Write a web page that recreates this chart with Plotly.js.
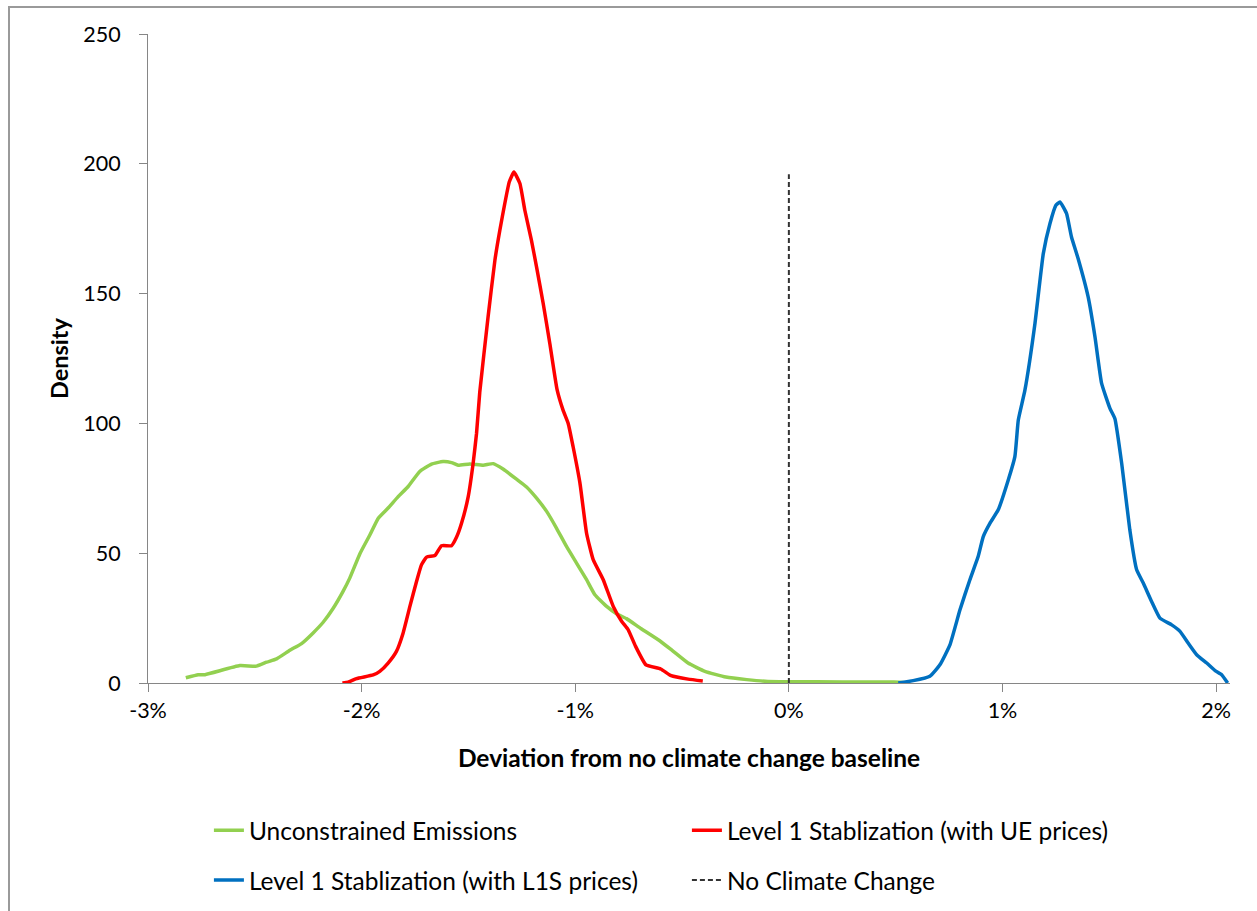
<!DOCTYPE html>
<html>
<head>
<meta charset="utf-8">
<script src="https://cdn.plot.ly/plotly-3.0.1.min.js"></script>
<style>
  html, body { margin: 0; padding: 0; background: #ffffff; }
  #chart { position: absolute; left: 0; top: 0; width: 1257px; height: 911px; }
  #frame { position: absolute; left: 8px; top: 6px; width: 1300px; height: 1000px;
           border-top: 2px solid #9a9a9a; border-left: 2px solid #9a9a9a; pointer-events: none; }
</style>
</head>
<body>
<div id="chart"></div>
<div id="frame"></div>
<script>
// Deviation from no-climate-change baseline (in %), density values
const ueX = [-2.823,-2.765,-2.733,-2.570,-2.492,-2.445,-2.398,-2.336,-2.281,-2.227,-2.180,-2.133,-2.087,-2.055,-2.008,-1.961,-1.922,-1.876,-1.829,-1.782,-1.728,-1.673,-1.619,-1.579,-1.548,-1.494,-1.431,-1.384,-1.338,-1.275,-1.228,-1.181,-1.134,-1.088,-1.041,-0.994,-0.947,-0.908,-0.853,-0.807,-0.760,-0.693,-0.600,-0.541,-0.472,-0.393,-0.295,-0.197,-0.098,0.000,0.250,0.492,0.561];
const ueY = [2.0,3.2,3.2,6.7,6.5,8.0,9.3,12.6,15.2,19.3,23.4,28.8,35.3,40.5,49.8,57.1,63.5,67.4,71.8,75.7,81.5,84.3,85.3,84.9,83.9,84.4,83.9,84.5,82.4,78.5,75.5,71.2,66.1,59.7,52.6,46.2,39.8,34.0,29.5,26.7,24.8,21.0,16.0,12.2,7.7,4.5,2.3,1.3,0.6,0.5,0.4,0.4,0.0];

const l1ueX = [-2.090,-2.063,-2.024,-1.946,-1.915,-1.876,-1.837,-1.806,-1.774,-1.743,-1.720,-1.696,-1.657,-1.626,-1.579,-1.556,-1.532,-1.501,-1.478,-1.462,-1.447,-1.408,-1.376,-1.353,-1.330,-1.309,-1.287,-1.259,-1.236,-1.205,-1.181,-1.150,-1.119,-1.085,-1.057,-1.033,-1.010,-0.978,-0.947,-0.916,-0.869,-0.822,-0.783,-0.752,-0.718,-0.669,-0.600,-0.551,-0.472,-0.403];
const l1ueY = [0.0,0.3,1.7,3.1,4.5,7.7,12.2,19.2,29.5,39.1,45.5,48.5,49.1,52.9,52.9,56.1,61.6,71.8,84.6,96.2,112.0,141.1,162.9,174.4,184.6,193.0,196.8,192.4,182.1,170.5,160.2,146.2,130.8,113.0,105.1,100.0,91.0,77.0,57.7,47.5,39.8,29.5,23.8,20.5,14.2,7.0,5.4,2.8,1.5,0.8];

const l1sX = [0.512,0.582,0.660,0.707,0.754,0.801,0.847,0.886,0.910,0.941,0.980,1.027,1.058,1.074,1.105,1.152,1.191,1.222,1.250,1.269,1.300,1.323,1.354,1.401,1.433,1.464,1.503,1.526,1.558,1.596,1.628,1.659,1.698,1.737,1.792,1.831,1.869,1.909,1.956,1.995,2.026,2.054];
const l1sY = [0.0,0.9,2.6,7.0,14.7,28.2,39.7,48.7,56.4,61.5,66.7,78.2,87.2,101.3,112.8,138.5,165.4,176.9,184.0,185.3,180.8,171.8,163.5,148.7,133.3,115.4,105.8,101.9,84.6,59.0,43.6,38.5,31.4,25.0,22.4,19.9,15.4,10.9,7.7,4.8,3.2,0.0];

const nccX = [0, 0];
const nccY = [0, 196];

const seriesNames = ["Unconstrained Emissions", "Level 1 Stablization (with UE prices)", "Level 1 Stablization (with L1S prices)", "No Climate Change"];
const xTickVals = [-3, -2, -1, 0, 1, 2];
const xTickLabels = ["-3%", "-2%", "-1%", "0%", "1%", "2%"];
const yTickVals = [0, 50, 100, 150, 200, 250];

const FONT = "Lato, 'Open Sans', sans-serif";

const traces = [
  { x: ueX, y: ueY, name: seriesNames[0], type: "scatter", mode: "lines",
    line: { color: "#92D050", width: 3.5, shape: "spline", smoothing: 0.4 }, legend: "legend" },
  { x: l1ueX, y: l1ueY, name: seriesNames[1], type: "scatter", mode: "lines",
    line: { color: "#FF0000", width: 3.5, shape: "spline", smoothing: 0.4 }, legend: "legend" },
  { x: l1sX, y: l1sY, name: seriesNames[2], type: "scatter", mode: "lines",
    line: { color: "#0070C0", width: 3.5, shape: "spline", smoothing: 0.4 }, legend: "legend2" },
  { x: nccX, y: nccY, name: seriesNames[3], type: "scatter", mode: "lines",
    line: { color: "#333333", width: 2, dash: "5px,3px" }, legend: "legend2" }
];

const legendCommon = {
  orientation: "h", xanchor: "left", yanchor: "middle",
  bgcolor: "rgba(0,0,0,0)", borderwidth: 0,
  font: { family: FONT, size: 24.5, color: "#000000" },
  entrywidth: 433, entrywidthmode: "pixels", traceorder: "normal"
};

const layout = {
  width: 1257, height: 911,
  margin: { l: 148, r: 27, t: 33.5, b: 227.5, pad: 0, autoexpand: false },
  paper_bgcolor: "#ffffff", plot_bgcolor: "#ffffff",
  font: { family: FONT, color: "#000000" },
  showlegend: true,
  xaxis: {
    range: [-3, 2.065], autorange: false,
    tickmode: "array", tickvals: xTickVals, ticktext: xTickLabels,
    ticks: "outside", ticklen: 8, tickcolor: "#868686", tickwidth: 1,
    showline: true, linecolor: "#868686", linewidth: 1,
    showgrid: false, zeroline: false,
    tickfont: { family: FONT, size: 21.5, color: "#000000" },
    title: { text: "<b>Deviation from no climate change baseline</b>",
             font: { family: FONT, size: 24.5, color: "#000000" }, standoff: 28 },
    automargin: false
  },
  yaxis: {
    range: [0, 250], autorange: false,
    tickmode: "array", tickvals: yTickVals,
    ticks: "outside", ticklen: 8, tickcolor: "#868686", tickwidth: 1,
    showline: true, linecolor: "#868686", linewidth: 1,
    showgrid: false, zeroline: false,
    ticklabelstandoff: 14,
    tickfont: { family: FONT, size: 21.5, color: "#000000" },
    title: { text: "<b>Density</b>",
             font: { family: FONT, size: 23.5, color: "#000000" }, standoff: 8 },
    automargin: false
  },
  legend: Object.assign({}, legendCommon, { x: 0.0563, y: -0.2269 }),
  legend2: Object.assign({}, legendCommon, { x: 0.0563, y: -0.3038 })
};

Plotly.newPlot("chart", traces, layout, { displayModeBar: false, staticPlot: true });
</script>
</body>
</html>
